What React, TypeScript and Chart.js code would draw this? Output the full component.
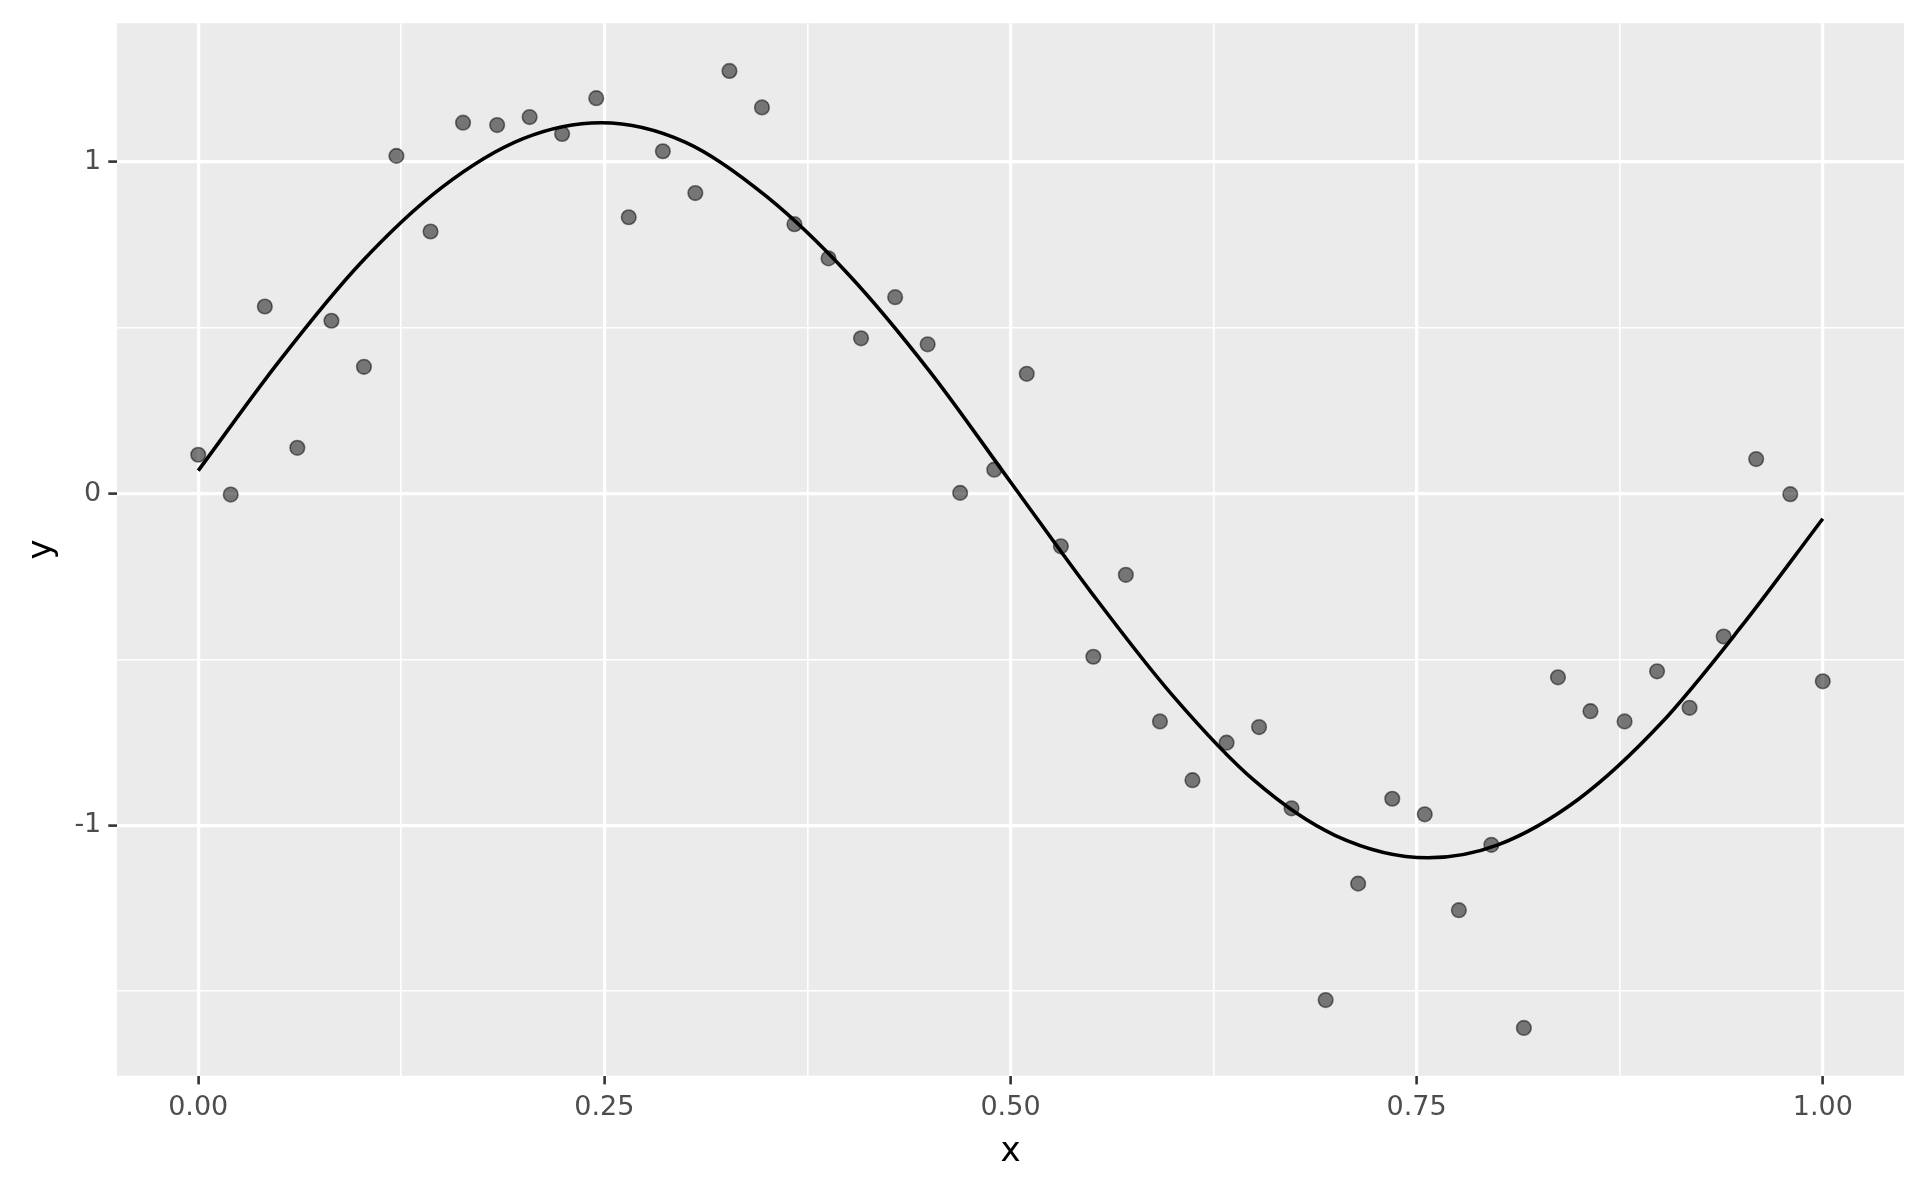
import React, { useEffect, useRef } from 'react';
import { Chart, registerables } from 'chart.js';

Chart.register(...registerables);

// Observed points (x evenly spaced over [0, 1])
const pointX = [
  0.0, 0.02, 0.041, 0.061, 0.082, 0.102, 0.122, 0.143, 0.163, 0.184,
  0.204, 0.224, 0.245, 0.265, 0.286, 0.306, 0.327, 0.347, 0.367, 0.388,
  0.408, 0.429, 0.449, 0.469, 0.49, 0.51, 0.531, 0.551, 0.571, 0.592,
  0.612, 0.633, 0.653, 0.673, 0.694, 0.714, 0.735, 0.755, 0.776, 0.796,
  0.816, 0.837, 0.857, 0.878, 0.898, 0.918, 0.939, 0.959, 0.98, 1.0,
];
const pointY = [
  0.117, -0.003, 0.564, 0.138, 0.521, 0.382, 1.018, 0.79, 1.118, 1.111,
  1.135, 1.084, 1.192, 0.833, 1.032, 0.906, 1.274, 1.164, 0.812, 0.709,
  0.468, 0.592, 0.45, 0.002, 0.072, 0.361, -0.159, -0.492, -0.245, -0.687,
  -0.864, -0.751, -0.704, -0.949, -1.527, -1.176, -0.92, -0.967, -1.256, -1.059,
  -1.611, -0.554, -0.656, -0.687, -0.536, -0.646, -0.431, 0.104, -0.002, -0.566,
];

// Fitted smooth curve
const curveX = [
  0.0, 0.05, 0.1, 0.15, 0.2, 0.248, 0.3, 0.35, 0.4, 0.45,
  0.5, 0.55, 0.6, 0.65, 0.7, 0.757, 0.8, 0.85, 0.9, 0.95, 1.0,
];
const curveY = [
  0.069, 0.4, 0.695, 0.923, 1.07, 1.118, 1.059, 0.895, 0.662, 0.37,
  0.035, -0.3, -0.61, -0.865, -1.031, -1.098, -1.059, -0.92, -0.695, -0.4, -0.076,
];

const xBreaks = [0, 0.25, 0.5, 0.75, 1];
const xLabels = ['0.00', '0.25', '0.50', '0.75', '1.00'];
const xMinorBreaks = [0.125, 0.375, 0.625, 0.875];
const yBreaks = [-1, 0, 1];
const yLabels = ['-1', '0', '1'];
const yMinorBreaks = [-1.5, -0.5, 0.5];
const xLimits = [-0.05, 1.05];
const yLimits = [-1.755, 1.418];

const FONT = '"DejaVu Sans", sans-serif';

const panelBg = {
  id: 'panelBg',
  beforeDraw(chart: any) {
    const { ctx, chartArea } = chart;
    ctx.save();
    ctx.fillStyle = '#EBEBEB';
    ctx.fillRect(chartArea.left, chartArea.top, chartArea.right - chartArea.left, chartArea.bottom - chartArea.top);
    ctx.restore();
  },
};

export default function App() {
  const ref = useRef<HTMLCanvasElement | null>(null);

  useEffect(() => {
    if (!ref.current) return;
    const isMajorX = (v: number) => xBreaks.indexOf(v) >= 0;
    const isMajorY = (v: number) => yBreaks.indexOf(v) >= 0;

    const chart = new Chart(ref.current, {
      type: 'scatter',
      data: {
        datasets: [
          {
            type: 'line',
            label: 'smooth',
            data: curveX.map((x, i) => ({ x, y: curveY[i] })),
            borderColor: '#000000',
            borderWidth: 3.6,
            pointRadius: 0,
            fill: false,
            cubicInterpolationMode: 'monotone',
            order: 0,
          } as any,
          {
            type: 'scatter',
            label: 'points',
            data: pointX.map((x, i) => ({ x, y: pointY[i] })),
            backgroundColor: 'rgba(0,0,0,0.5)',
            borderColor: 'rgba(0,0,0,0.5)',
            borderWidth: 1.6,
            pointRadius: 7.3,
            order: 1,
          },
        ],
      },
      options: {
        animation: false,
        responsive: false,
        maintainAspectRatio: false,
        layout: { padding: { left: 0, top: 20, right: 20, bottom: 0 } },
        plugins: {
          legend: { display: false },
          tooltip: { enabled: false },
        },
        scales: {
          x: {
            type: 'linear',
            min: xLimits[0],
            max: xLimits[1],
            afterBuildTicks: (scale: any) => {
              scale.ticks = [...xBreaks, ...xMinorBreaks].sort((a, b) => a - b).map((v) => ({ value: v }));
            },
            afterFit: (scale: any) => {
              scale.height = 114.3;
            },
            border: { display: false },
            grid: {
              color: '#FFFFFF',
              lineWidth: (ctx: any) => (isMajorX(ctx.tick?.value) ? 3.2 : 1.6),
              drawTicks: true,
              tickLength: 8.7,
              tickColor: (ctx: any) => (isMajorX(ctx.tick?.value) ? '#333333' : 'rgba(0,0,0,0)'),
              tickWidth: 2.6,
            },
            ticks: {
              autoSkip: false,
              maxRotation: 0,
              minRotation: 0,
              padding: 7,
              color: '#4D4D4D',
              font: { family: FONT, size: 27 },
              callback: (value: any) => {
                const i = xBreaks.indexOf(Number(value));
                return i >= 0 ? xLabels[i] : '';
              },
            },
            title: {
              display: true,
              text: 'x',
              color: '#000000',
              font: { family: FONT, size: 34 },
              padding: { top: 0, bottom: 17.5 },
            },
          },
          y: {
            type: 'linear',
            min: yLimits[0],
            max: yLimits[1],
            afterBuildTicks: (scale: any) => {
              scale.ticks = [...yBreaks, ...yMinorBreaks].sort((a, b) => a - b).map((v) => ({ value: v }));
            },
            afterFit: (scale: any) => {
              scale.width = 117;
            },
            border: { display: false },
            grid: {
              color: '#FFFFFF',
              lineWidth: (ctx: any) => (isMajorY(ctx.tick?.value) ? 3.2 : 1.6),
              drawTicks: true,
              tickLength: 8.7,
              tickColor: (ctx: any) => (isMajorY(ctx.tick?.value) ? '#333333' : 'rgba(0,0,0,0)'),
              tickWidth: 2.6,
            },
            ticks: {
              autoSkip: false,
              padding: 7,
              color: '#4D4D4D',
              font: { family: FONT, size: 27 },
              callback: (value: any) => {
                const i = yBreaks.indexOf(Number(value));
                return i >= 0 ? yLabels[i] : '';
              },
            },
            title: {
              display: true,
              text: 'y',
              color: '#000000',
              font: { family: FONT, size: 34 },
              padding: { top: 22, bottom: 0 },
            },
          },
        },
      },
      plugins: [panelBg],
    });

    return () => chart.destroy();
  }, []);

  return (
    <div style={{ position: 'absolute', left: 0, top: 0, width: 1924, height: 1190, background: '#FFFFFF' }}>
      <canvas ref={ref} width={1924} height={1190} style={{ display: 'block', width: 1924, height: 1190 }} />
    </div>
  );
}
